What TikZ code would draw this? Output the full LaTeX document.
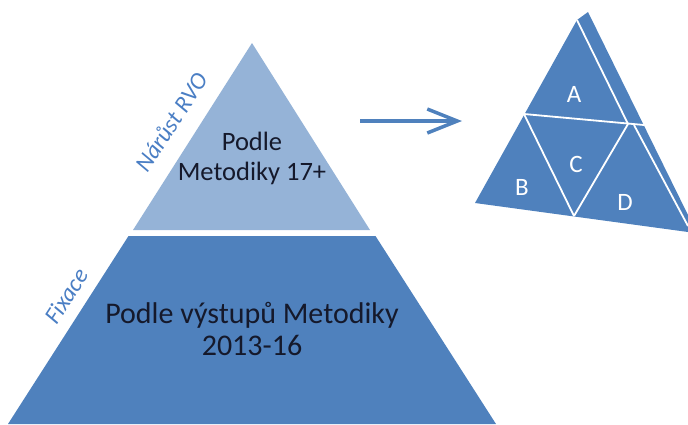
\documentclass[tikz,border=0pt]{standalone}
\usepackage{fontspec}
\setmainfont{Carlito}
\usetikzlibrary{arrows.meta}
\definecolor{lightb}{HTML}{95B3D7}
\definecolor{darkb}{HTML}{4F81BD}
\definecolor{labelb}{HTML}{4A7EC4}
\definecolor{txt}{HTML}{15192B}
\tikzset{
  sidelabel/.style={text=labelb, font=\itshape\fontsize{24}{26}\selectfont, rotate=57, inner sep=0pt},
  letter/.style={text=white, font=\fontsize{25}{26}\selectfont, inner sep=0pt},
  sep/.style={draw=white, line width=1.8pt},
}
\begin{document}
\begin{tikzpicture}[x=1pt,y=-1pt]
\useasboundingbox (0,0) rectangle (688,424);
% pyramid
\fill[lightb] (252,43) -- (370,230) -- (133,230) -- cycle;
\fill[darkb] (128.5,236) -- (375.5,236) -- (496,424) -- (8,424) -- cycle;
\node[text=txt, align=center, font=\fontsize{26.5}{30}\selectfont, inner sep=0pt] (upper) at (252,158) {Podle\\Metodiky 17+};
\node[text=txt, align=center, font=\fontsize{30}{32}\selectfont, inner sep=0pt] (lower) at (252,329) {Podle výstupů Metodiky\\2013-16};
\node[sidelabel] (narust) at (171,122) {Nárůst RVO};
\node[sidelabel] (fixace) at (66,296) {Fixace};
% arrow
\coordinate (as) at (360,121);
\coordinate (ae) at (462,121);
\draw[darkb, line width=3.5pt, -{Straight Barb[length=30pt,width=24pt]}] (as) -- (ae);
% tetrahedron net
\coordinate (T1) at (577,20);
\coordinate (T2) at (588,12);
\coordinate (AL) at (524,114);
\coordinate (AR) at (628,124);
\coordinate (MR) at (644,125);
\coordinate (BL) at (475,203);
\coordinate (BR) at (574,216);
\coordinate (RR) at (688,215);
\coordinate (DR) at (688,232);
\coordinate (DS) at (634,125);
\coordinate (DE) at (688,226);
\fill[darkb] (T1) -- (T2) -- (RR) -- (DR) -- (BL) -- cycle;
\draw[sep] (T1) -- (AR);
\draw[sep] (AL) -- (MR);
\draw[sep] (AL) -- (BR);
\draw[sep] (AR) -- (BR);
\draw[sep] (DS) -- (DE);
\node[letter] (la) at (574,94) {A};
\node[letter] (lb) at (522,187) {B};
\node[letter] (lc) at (576,164) {C};
\node[letter] (ld) at (625,202) {D};
\end{tikzpicture}
\end{document}
